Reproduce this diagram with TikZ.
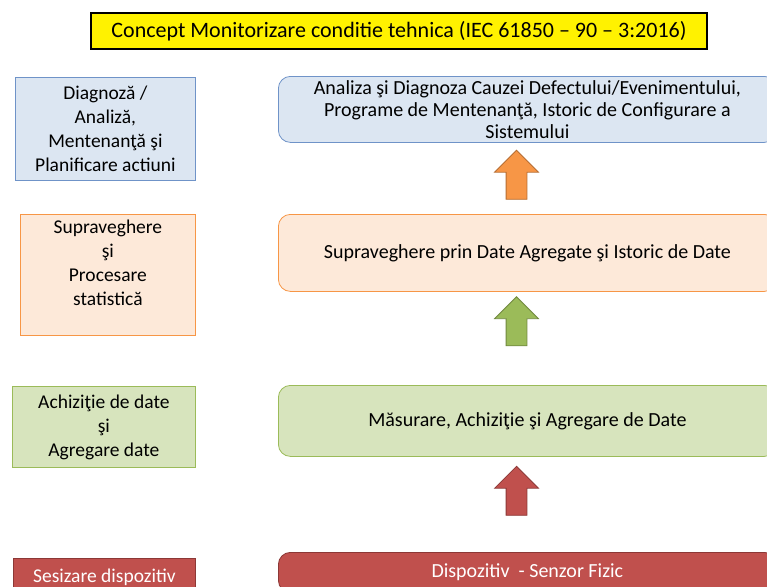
\documentclass[tikz,border=0pt]{standalone}
\usepackage{fontspec}
\setmainfont{Carlito}
\usetikzlibrary{shapes.arrows}
\definecolor{blueF}{HTML}{DCE6F2}
\definecolor{blueD}{HTML}{6F93C8}
\definecolor{orangeF}{HTML}{FDE9D9}
\definecolor{orangeD}{HTML}{F79646}
\definecolor{orangeA}{HTML}{B66D31}
\definecolor{greenF}{HTML}{D7E4BD}
\definecolor{greenD}{HTML}{9BBB59}
\definecolor{greenA}{HTML}{71893F}
\definecolor{redF}{HTML}{C0504D}
\definecolor{redA}{HTML}{8C3836}
\tikzset{
    levelbox/.style = {rectangle, draw, align=center, anchor=north west, inner sep=0pt,
        font=\fontsize{19.5}{24}\selectfont},
    stagebox/.style = {rectangle, rounded corners=12pt, draw, align=center, anchor=north west, inner sep=0pt,
        font=\fontsize{20}{22}\selectfont},
    arrowup/.style = {single arrow, rotate=90, inner xsep=0pt, inner ysep=10pt, minimum height=49pt,
        single arrow head extend=11.5pt, line width=0.8pt},
}
\begin{document}
\begin{tikzpicture}[x=1pt, y=-1pt, line width=0.8pt]
\useasboundingbox (0,0) rectangle (767,586);
\clip (0,0) rectangle (767,586);
% titlu
\node[draw=black, line width=2pt, fill=yellow, minimum width=616pt, minimum height=36pt, inner sep=0pt,
    font=\fontsize{22}{24}\selectfont] (titlu) at (399,31) {Concept Monitorizare conditie tehnica (IEC 61850 -- 90 -- 3:2016)};
% nivele stanga
\node[levelbox, draw=blueD, fill=blueF, minimum width=180pt, minimum height=103pt] (diag) at (15,77)
    {Diagnoză /\\Analiză,\\Mentenanţă şi\\Planificare actiuni};
\node[levelbox, draw=orangeD, fill=orangeF, minimum width=175pt, minimum height=121pt] (supr) at (20,214)
    {Supraveghere\\şi\\Procesare\\statistică\\\mbox{}};
\node[levelbox, draw=greenD, fill=greenF, minimum width=183pt, minimum height=81pt] (achiz) at (12,386)
    {Achiziţie de date\\şi\\Agregare date};
\node[levelbox, draw=redA, fill=redF, text=white, minimum width=182pt, minimum height=38pt] (sesiz) at (13,558)
    {Sesizare dispozitiv};
% etape dreapta
\node[stagebox, draw=blueD, fill=blueF, minimum width=498pt, minimum height=66pt] (analiza) at (278,76)
    {Analiza şi Diagnoza Cauzei Defectului/Evenimentului,\\Programe de Mentenanţă, Istoric de Configurare a\\Sistemului};
\node[stagebox, draw=orangeD, fill=orangeF, minimum width=498pt, minimum height=77pt] (suprdate) at (278,214)
    {Supraveghere prin Date Agregate şi Istoric de Date};
\node[stagebox, draw=greenD, fill=greenF, minimum width=498pt, minimum height=71pt] (masurare) at (278,385)
    {Măsurare, Achiziţie şi Agregare de Date};
\node[stagebox, draw=redA, fill=redF, text=white, minimum width=498pt, minimum height=40pt] (senzor) at (278,552)
    {Dispozitiv \ - Senzor Fizic};
% sageti
\node[arrowup, draw=orangeA, fill=orangeD] (s1) at (516.5,180) {};
\node[arrowup, draw=greenA, fill=greenD] (s2) at (516.5,326.5) {};
\node[arrowup, draw=redA, fill=redF] (s3) at (516.5,496) {};
\end{tikzpicture}
\end{document}
